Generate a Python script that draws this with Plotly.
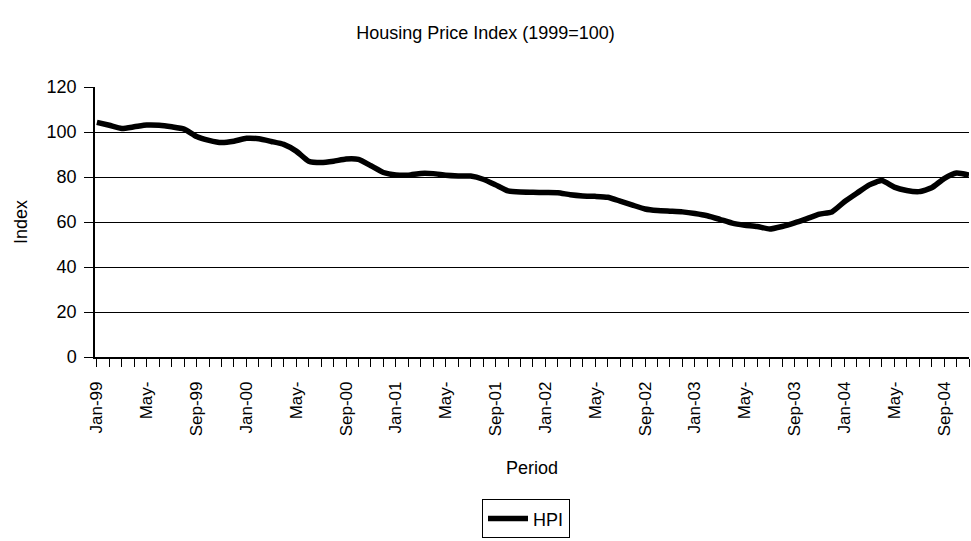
import plotly.graph_objects as go

months = [
    "Jan-99", "Feb-99", "Mar-99", "Apr-99", "May-99", "Jun-99", "Jul-99", "Aug-99", "Sep-99", "Oct-99", "Nov-99", "Dec-99",
    "Jan-00", "Feb-00", "Mar-00", "Apr-00", "May-00", "Jun-00", "Jul-00", "Aug-00", "Sep-00", "Oct-00", "Nov-00", "Dec-00",
    "Jan-01", "Feb-01", "Mar-01", "Apr-01", "May-01", "Jun-01", "Jul-01", "Aug-01", "Sep-01", "Oct-01", "Nov-01", "Dec-01",
    "Jan-02", "Feb-02", "Mar-02", "Apr-02", "May-02", "Jun-02", "Jul-02", "Aug-02", "Sep-02", "Oct-02", "Nov-02", "Dec-02",
    "Jan-03", "Feb-03", "Mar-03", "Apr-03", "May-03", "Jun-03", "Jul-03", "Aug-03", "Sep-03", "Oct-03", "Nov-03", "Dec-03",
    "Jan-04", "Feb-04", "Mar-04", "Apr-04", "May-04", "Jun-04", "Jul-04", "Aug-04", "Sep-04", "Oct-04", "Nov-04",
]

hpi = [
    104.3, 103.0, 101.6, 102.3, 103.1, 103.0, 102.3, 101.3, 98.0, 96.3, 95.3, 95.9,
    97.2, 97.0, 95.8, 94.5, 91.5, 87.0, 86.4, 87.0, 88.0, 87.8, 85.0, 82.0,
    80.9, 80.8, 81.6, 81.5, 80.8, 80.5, 80.4, 79.0, 76.5, 73.8, 73.3, 73.2,
    73.1, 73.0, 72.1, 71.6, 71.4, 71.0, 69.3, 67.5, 65.8, 65.1, 64.8, 64.5,
    63.8, 62.8, 61.2, 59.5, 58.6, 58.0, 56.9, 58.0, 59.6, 61.5, 63.5, 64.5,
    69.0, 72.8, 76.5, 78.4, 75.5, 74.0, 73.5, 75.2, 79.3, 81.8, 80.9,
]

tick_labels = ["Jan-99", "May-", "Sep-99", "Jan-00", "May-", "Sep-00", "Jan-01", "May-", "Sep-01",
               "Jan-02", "May-", "Sep-02", "Jan-03", "May-", "Sep-03", "Jan-04", "May-", "Sep-04"]
label_every = 4

y_ticks = [0, 20, 40, 60, 80, 100, 120]

x_idx = list(range(len(months)))
tick_text = []
k = 0
for i in x_idx:
    if i % label_every == 0 and k < len(tick_labels):
        tick_text.append(tick_labels[k])
        k += 1
    else:
        tick_text.append("")

FONT = "Liberation Sans, Arial, sans-serif"

fig = go.Figure()
fig.add_trace(go.Scatter(
    x=x_idx, y=hpi, mode="lines", name="HPI",
    line=dict(color="black", width=5.5, shape="spline", smoothing=0.5),
    customdata=months, hovertemplate="%{customdata}: %{y}<extra></extra>",
))

fig.update_layout(
    width=971, height=541,
    margin=dict(l=95, r=2, t=87, b=181),
    paper_bgcolor="white", plot_bgcolor="white",
    font=dict(family=FONT, color="black", size=18),
    title=dict(text="Housing Price Index (1999=100)", x=0.5, xanchor="center",
               y=1 - 33 / 541, yanchor="middle", yref="container",
               font=dict(size=18, family=FONT)),
    showlegend=True,
    legend=dict(x=(482 - 95) / 874, y=(360 - 504) / 273, xanchor="left", yanchor="top",
                bordercolor="black", borderwidth=1, bgcolor="white",
                font=dict(size=18, family=FONT), itemwidth=40),
    xaxis=dict(
        range=[-0.15, 70.0], tickmode="array", tickvals=x_idx, ticktext=tick_text,
        tickangle=-90, ticks="outside", ticklen=8, tickcolor="black", tickwidth=1,
        ticklabelstandoff=8,
        showline=True, linecolor="black", linewidth=1.5, showgrid=False, zeroline=False,
        tickfont=dict(size=17, family=FONT),
        title=dict(text="Period", font=dict(size=18, family=FONT), standoff=26),
        automargin=False,
    ),
    yaxis=dict(
        range=[0, 120], tickvals=y_ticks, ticks="outside", ticklen=9, tickcolor="black",
        ticklabelstandoff=4,
        showline=True, linecolor="black", linewidth=1.5, showgrid=True, gridcolor="black",
        gridwidth=1, zeroline=False, tickfont=dict(size=18, family=FONT),
        title=dict(text="Index", font=dict(size=18, family=FONT), standoff=14),
        automargin=False,
    ),
)

fig.write_html("out.html",
               config={"displayModeBar": False},
               post_script="document.body.style.margin='0';document.body.style.overflow='hidden';")
